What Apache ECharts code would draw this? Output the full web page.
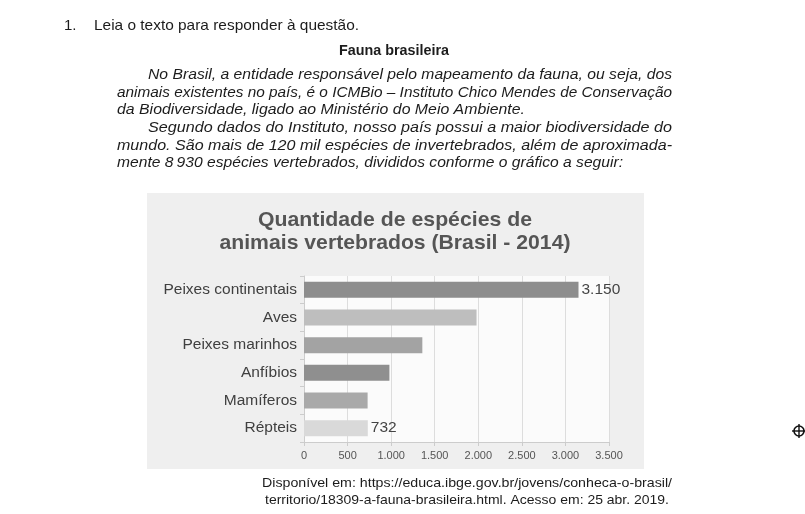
<!DOCTYPE html>
<html><head><meta charset="utf-8">
<script src="https://cdn.jsdelivr.net/npm/echarts@6/dist/echarts.min.js"></script>
<style>html,body{margin:0;padding:0;background:#fff}#c{width:805px;height:514px}</style>
</head><body><div id="c"></div>
<script>
// ---- data ----
const categories = ['Peixes continentais', 'Aves', 'Peixes marinhos', 'Anfíbios', 'Mamíferos', 'Répteis'];
const speciesCounts = [3150, 1980, 1358, 980, 730, 732];
const barColors = ['#8d8d8d', '#bebebe', '#a3a3a3', '#8f8f8f', '#a9a9a9', '#d9d9d9'];
const labelledBars = ['Peixes continentais', 'Répteis'];
const axisMin = 0, axisMax = 3500, axisInterval = 500;
const chartTitle = ['Quantidade de espécies de', 'animais vertebrados (Brasil - 2014)'];
const questionNumber = '1.';
const questionLine = 'Leia o texto para responder à questão.';
const textHeading = 'Fauna brasileira';
const paragraphLines = [
  'No Brasil, a entidade responsável pelo mapeamento da fauna, ou seja, dos',
  'animais existentes no país, é o ICMBio – Instituto Chico Mendes de Conservação',
  'da Biodiversidade, ligado ao Ministério do Meio Ambiente.',
  'Segundo dados do Instituto, nosso país possui a maior biodiversidade do',
  'mundo. São mais de 120 mil espécies de invertebrados, além de aproximada-',
  'mente 8\u202F930 espécies vertebrados, divididos conforme o gráfico a seguir:'
];
const sourceLines = [
  'Disponível em: https://educa.ibge.gov.br/jovens/conheca-o-brasil/',
  'territorio/18309-a-fauna-brasileira.html. Acesso em: 25 abr. 2019.'
];

// ---- layout helpers ----
const FAM = "'Liberation Sans', Arial, Helvetica, sans-serif";
const mctx = document.createElement('canvas').getContext('2d');
function fmt(v) { return String(v).replace(/\B(?=(\d{3})+(?!\d))/g, '.'); }
// text element horizontally scaled so that it spans `width` px
function fitText(str, x, y, width, font, color, align) {
  mctx.font = font;
  const w = mctx.measureText(str).width;
  const sx = width ? width / w : 1;
  return { type: 'text', x: x, y: y, scaleX: sx, silent: true,
    style: { text: str, font: font, fill: color, textAlign: align || 'left', textVerticalAlign: 'middle' } };
}

const INK = '#1c1c1c';
const graphics = [];
// chart panel background
graphics.push({ type: 'rect', z: -5, silent: true, shape: { x: 147, y: 193, width: 497, height: 276 }, style: { fill: '#efefef' } });
// top text
const regFont = 'normal normal 15px ' + FAM;
graphics.push(fitText(questionNumber, 64, 26, 0, regFont, INK));
graphics.push(fitText(questionLine, 94, 26, 265, regFont, INK));
graphics.push(fitText(textHeading, 394, 51, 110, 'normal bold 15px ' + FAM, INK, 'center'));
const paraFont = 'italic normal 15px ' + FAM;
const paraY = [75, 92.5, 110, 128, 145.5, 163];
const paraX = [148, 117, 117, 148, 117, 117];
const paraR = [672, 672, 525, 672, 672, 623];
paragraphLines.forEach((l, i) => graphics.push(fitText(l, paraX[i], paraY[i], paraR[i] - paraX[i], paraFont, INK)));
// chart title
const titleW = [274, 351];
chartTitle.forEach((t, i) => graphics.push(fitText(t, 395, 220 + i * 23, titleW[i], 'normal bold 21px ' + FAM, '#555555', 'center')));
// source
const srcFont = 'normal normal 13px ' + FAM;
graphics.push(fitText(sourceLines[0], 262, 483, 410, srcFont, INK));
graphics.push(fitText(sourceLines[1], 265, 500, 404, srcFont, INK));
// registration mark
graphics.push({ type: 'circle', silent: true, shape: { cx: 799, cy: 431, r: 5 }, style: { fill: 'none', stroke: '#111', lineWidth: 1.6 } });
graphics.push({ type: 'line', silent: true, shape: { x1: 792, y1: 431, x2: 806, y2: 431 }, style: { stroke: '#111', lineWidth: 1.4 } });
graphics.push({ type: 'line', silent: true, shape: { x1: 799, y1: 424, x2: 799, y2: 438 }, style: { stroke: '#111', lineWidth: 1.4 } });

const chart = echarts.init(document.getElementById('c'), null, { renderer: 'canvas' });
chart.setOption({
  animation: false,
  backgroundColor: '#ffffff',
  textStyle: { fontFamily: FAM },
  graphic: { elements: graphics },
  grid: { left: 304, right: 196, top: 276, bottom: 72, show: true, backgroundColor: '#fbfbfb', borderWidth: 0 },
  xAxis: {
    type: 'value', min: axisMin, max: axisMax, interval: axisInterval,
    axisLine: { show: true, lineStyle: { color: '#cccccc' } },
    axisTick: { show: true, length: 4, lineStyle: { color: '#cccccc' } },
    splitLine: { show: true, lineStyle: { color: '#dddddd', width: 1 } },
    axisLabel: { fontSize: 11, color: '#555555', margin: 8, formatter: v => fmt(v) }
  },
  yAxis: {
    type: 'category', data: categories, inverse: true,
    axisLine: { show: true, lineStyle: { color: '#cccccc' } },
    axisTick: { show: true, length: 4, lineStyle: { color: '#cccccc' } },
    axisLabel: { fontSize: 15.5, color: '#404040', margin: 7 }
  },
  series: [{
    type: 'bar', barWidth: 16,
    data: speciesCounts.map((v, i) => ({
      value: v, itemStyle: { color: barColors[i] },
      label: { show: labelledBars.includes(categories[i]) }
    })),
    label: { position: 'right', distance: 3, fontSize: 15.5, color: '#444444', formatter: p => fmt(p.value) }
  }]
});
</script></body></html>
